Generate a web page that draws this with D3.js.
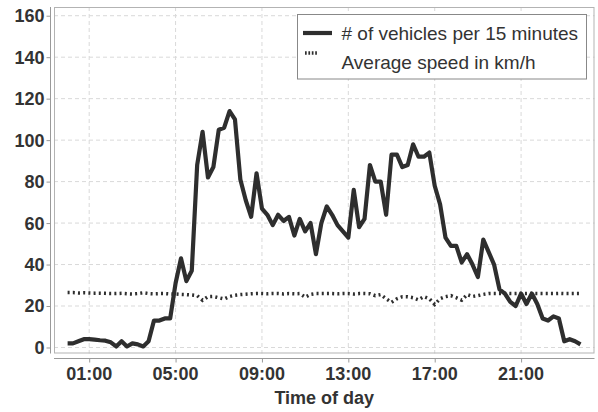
<!DOCTYPE html>
<meta charset="utf-8">
<style>

body {
  margin: 0;
  background: #fff;
}

svg {
  display: block;
  font-family: 'Liberation Sans', Arial, sans-serif;
}

.grid line
{
    stroke: #d9d9d9;
    stroke-dasharray: 4,3;
}

.tick-label
{
    font-size: 18px;
    font-weight: bold;
    fill: #333;
}

.legend
{
    font-size: 19px;
    fill: #333;
}

</style>
<body>
<div id='chart'></div>
<script src="https://cdn.jsdelivr.net/npm/d3@7"></script>
<script>

// one value every 15 minutes, 00:00 .. 23:45
var hours = d3.range(96).map(function(i) { return i / 4; });

var vehicles = [2, 2, 3, 4, 4, 3.8, 3.5, 3.3, 2.5, 0.5, 3, 0.5,
                2, 1.5, 0.5, 3, 13, 13, 14, 14, 31, 43, 32, 37,
                88, 104, 82, 87, 105, 106, 114, 110, 81, 71, 63, 84,
                67, 64, 59, 64, 61, 63, 54, 62, 56, 60, 45, 60,
                68, 64, 59, 56, 53, 76, 58, 62, 88, 80, 80, 64,
                93, 93, 87, 88, 98, 92, 92, 94, 78, 69, 53, 49,
                49, 41, 45, 40, 34, 52, 46, 40, 28, 26, 22, 20,
                26, 21, 26, 21, 14, 13, 15, 14, 3, 4, 3, 1.5];

var speed = [26.5, 26.5, 26.3, 26.4, 26.3, 26.2, 26.2, 26.1, 26, 26, 26.1, 25.9,
             25.8, 26, 26.4, 26, 25.9, 26, 26, 25.8, 25.8, 25.6, 25.5, 25.3,
             25, 22.8, 24.5, 24.6, 24, 23.4, 24.6, 25.2, 25.5, 25.7, 25.9, 26,
             26, 25.9, 26, 26, 25.8, 26, 25.9, 26, 24.3, 25.6, 26, 26,
             26, 26, 25.9, 26, 26, 25.8, 26, 26, 25.9, 25, 25.5, 23.5,
             21.8, 23.5, 24.5, 24.5, 24, 23, 24.5, 23.5, 20.8, 23.5, 24.5, 25,
             24, 22.8, 25.5, 24.6, 25, 25.6, 26, 26, 26, 26.1, 26, 26,
             26.1, 26, 26.1, 26, 26, 26, 26, 26.1, 26, 26, 26, 26];

var xTicks = [1, 5, 9, 13, 17, 21];
var xTickLabels = ['01:00', '05:00', '09:00', '13:00', '17:00', '21:00'];
var yTicks = [0, 20, 40, 60, 80, 100, 120, 140, 160];

var seriesNames = ['# of vehicles per 15 minutes', 'Average speed in km/h'];

var width = 598, height = 412;
var pLeft = 54, pRight = 594.5, pTop = 7, pBottom = 353.5;

var svg = d3.select('#chart')
            .append('svg')
            .attr('width', width)
            .attr('height', height);

var x = d3.scaleLinear().domain([-0.63, 24.4]).range([pLeft, pRight]);
var y = d3.scaleLinear().domain([-2.9, 164.2]).range([pBottom, pTop]);

// grid
var grid = svg.append('g').attr('class', 'grid');
grid.selectAll('.gy')
    .data(yTicks)
    .enter().append('line')
    .attr('x1', pLeft).attr('x2', pRight)
    .attr('y1', function(d) { return y(d); })
    .attr('y2', function(d) { return y(d); });
grid.selectAll('.gx')
    .data(xTicks)
    .enter().append('line')
    .attr('y1', pTop).attr('y2', pBottom)
    .attr('x1', function(d) { return x(d); })
    .attr('x2', function(d) { return x(d); });

// panel border
svg.append('rect')
   .attr('x', pLeft + 0.5)
   .attr('y', pTop + 0.5)
   .attr('width', pRight - pLeft - 1)
   .attr('height', pBottom - pTop - 1)
   .attr('fill', 'none')
   .attr('stroke', '#b3b3b3');

// axes, drawn a little away from the panel
var yAxis = svg.append('g')
   .attr('transform', 'translate(50.5,0)')
   .call(d3.axisLeft(y).tickValues(yTicks).tickSize(4).tickFormat(''));
yAxis.select('.domain').attr('d', 'M0,' + pTop + 'V' + pBottom);

var xAxis = svg.append('g')
   .attr('transform', 'translate(0,358.5)')
   .call(d3.axisBottom(x).tickValues(xTicks).tickSize(4).tickFormat(''));
xAxis.select('.domain').attr('d', 'M' + pLeft + ',0H' + pRight);

svg.selectAll('.domain, .tick line').attr('stroke', '#999');

svg.selectAll('.ylab')
   .data(yTicks)
   .enter().append('text')
   .attr('class', 'tick-label')
   .attr('x', 44.5)
   .attr('y', function(d) { return y(d); })
   .attr('dy', '0.36em')
   .attr('text-anchor', 'end')
   .text(function(d) { return d; });

svg.selectAll('.xlab')
   .data(xTicks)
   .enter().append('text')
   .attr('class', 'tick-label')
   .attr('x', function(d) { return x(d); })
   .attr('y', 380)
   .attr('text-anchor', 'middle')
   .text(function(d, i) { return xTickLabels[i]; });

svg.append('text')
   .attr('class', 'tick-label')
   .attr('x', (pLeft + pRight) / 2)
   .attr('y', 403.5)
   .attr('text-anchor', 'middle')
   .text('Time of day');

// lines
var line = d3.line()
  .x(function(d) { return x(d[0]); })
  .y(function(d) { return y(d[1]); });

svg.append('path')
   .datum(d3.zip(hours, speed))
   .attr('d', line)
   .attr('fill', 'none')
   .attr('stroke', '#2e2e2e')
   .attr('stroke-width', 3.5)
   .attr('stroke-dasharray', '2,3.2');

svg.append('path')
   .datum(d3.zip(hours, vehicles))
   .attr('d', line)
   .attr('fill', 'none')
   .attr('stroke', '#2e2e2e')
   .attr('stroke-width', 4.2)
   .attr('stroke-linejoin', 'round');

// legend
var lg = svg.append('g');
lg.append('rect')
  .attr('x', 297.5).attr('y', 14.5)
  .attr('width', 289).attr('height', 64.5)
  .attr('fill', '#fff')
  .attr('stroke', '#888');

lg.append('line')
  .attr('x1', 303).attr('x2', 332)
  .attr('y1', 33).attr('y2', 33)
  .attr('stroke', '#2e2e2e')
  .attr('stroke-width', 4.2);

lg.append('line')
  .attr('x1', 305).attr('x2', 318)
  .attr('y1', 53).attr('y2', 53)
  .attr('stroke', '#2e2e2e')
  .attr('stroke-width', 3.5)
  .attr('stroke-dasharray', '1.7,1.7');

lg.selectAll('.legend')
  .data(seriesNames)
  .enter().append('text')
  .attr('class', 'legend')
  .attr('x', 341.5)
  .attr('y', function(d, i) { return 40 + i * 29; })
  .text(function(d) { return d; });

</script>
</body>
